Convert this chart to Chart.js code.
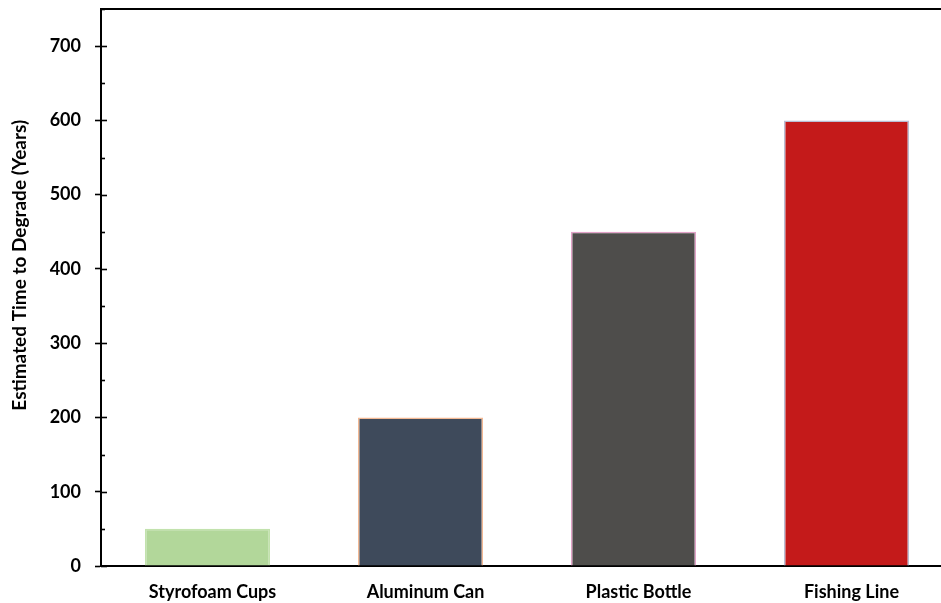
<!DOCTYPE html>
<html>
<head>
<meta charset="utf-8">
<script src="https://cdn.jsdelivr.net/npm/chart.js@4/dist/chart.umd.min.js"></script>
<style>
  html, body { margin: 0; padding: 0; background: #ffffff; overflow: hidden; }
  #wrap { position: relative; width: 953px; height: 603px; }
</style>
</head>
<body>
<div id="wrap"><canvas id="c"></canvas></div>
<script>
// Degradation time per item
const categories = ['Styrofoam Cups', 'Aluminum Can', 'Plastic Bottle', 'Fishing Line'];
const years = [50, 200, 450, 600];
const fillColors = ['#b2d79a', '#3e4a5b', '#4e4d4b', '#c41a1a'];
const edgeColors = ['#c2e2ad', '#f2b893', '#e2a2c8', '#b9bdd3'];
const yTitle = 'Estimated Time to Degrade (Years)';

const FONT = 'Lato, "Open Sans", sans-serif';

// Frame line along the top of the plot, short inward stubs on the y axis,
// and the rotated y-axis title
const framePlugin = {
  id: 'frame',
  afterDraw(chart) {
    const { ctx, chartArea, scales } = chart;
    const y = scales.y;
    ctx.save();
    ctx.strokeStyle = '#000';
    ctx.lineWidth = 2;
    ctx.beginPath();
    ctx.moveTo(chartArea.left - 1, chartArea.top);
    ctx.lineTo(chartArea.right + 20, chartArea.top);
    ctx.stroke();
    ctx.lineWidth = 1.6;
    y.ticks.forEach(t => {
      const py = Math.round(y.getPixelForValue(t.value)) + 0.5;
      const len = (t.value % 100 === 0) ? 6 : 4;
      ctx.beginPath();
      ctx.moveTo(chartArea.left, py);
      ctx.lineTo(chartArea.left + len, py);
      ctx.stroke();
    });
    // axis title, centred a little above the middle of the axis
    ctx.translate(20, y.getPixelForValue(405));
    ctx.rotate(-Math.PI / 2);
    ctx.fillStyle = '#000';
    ctx.font = 'bold 19px ' + FONT;
    ctx.textAlign = 'center';
    ctx.textBaseline = 'middle';
    ctx.fillText(yTitle, 0, 0);
    ctx.restore();
  }
};

new Chart(document.getElementById('c'), {
  type: 'bar',
  data: {
    labels: categories,
    datasets: [{
      data: years,
      backgroundColor: fillColors,
      borderColor: edgeColors,
      borderWidth: 1.5,
      categoryPercentage: 1.0,
      barPercentage: 0.587
    }]
  },
  options: {
    responsive: true,
    maintainAspectRatio: false,
    animation: false,
    layout: { padding: { top: 9, left: 0, right: 0, bottom: 0 } },
    plugins: { legend: { display: false }, tooltip: { enabled: false } },
    scales: {
      x: {
        grid: { display: false, drawTicks: false },
        border: { display: true, color: '#000', width: 2 },
        ticks: {
          color: '#000',
          padding: 15,
          labelOffset: 5,
          maxRotation: 0,
          font: { family: FONT, size: 18, weight: 'bold' }
        },
        afterFit(scale) { scale.height = 37; }
      },
      y: {
        min: 0,
        max: 750,
        grid: {
          drawOnChartArea: false,
          drawTicks: true,
          tickLength: 6,
          tickWidth: 1.6,
          tickColor: (c) => (c.tick && c.tick.value % 100 === 0) ? '#000' : 'rgba(0,0,0,0)'
        },
        border: { display: true, color: '#000', width: 2 },
        ticks: {
          stepSize: 50,
          color: '#000',
          padding: 14,
          font: { family: FONT, size: 18, weight: 'bold' },
          callback: (v) => (v % 100 === 0 && v <= 700) ? String(v) : ''
        },
        title: { display: false },
        afterFit(scale) {
          scale.width = 101;
          scale.paddingTop = 0;
          scale.paddingBottom = 0;
        }
      }
    }
  },
  plugins: [framePlugin]
});
</script>
</body>
</html>
